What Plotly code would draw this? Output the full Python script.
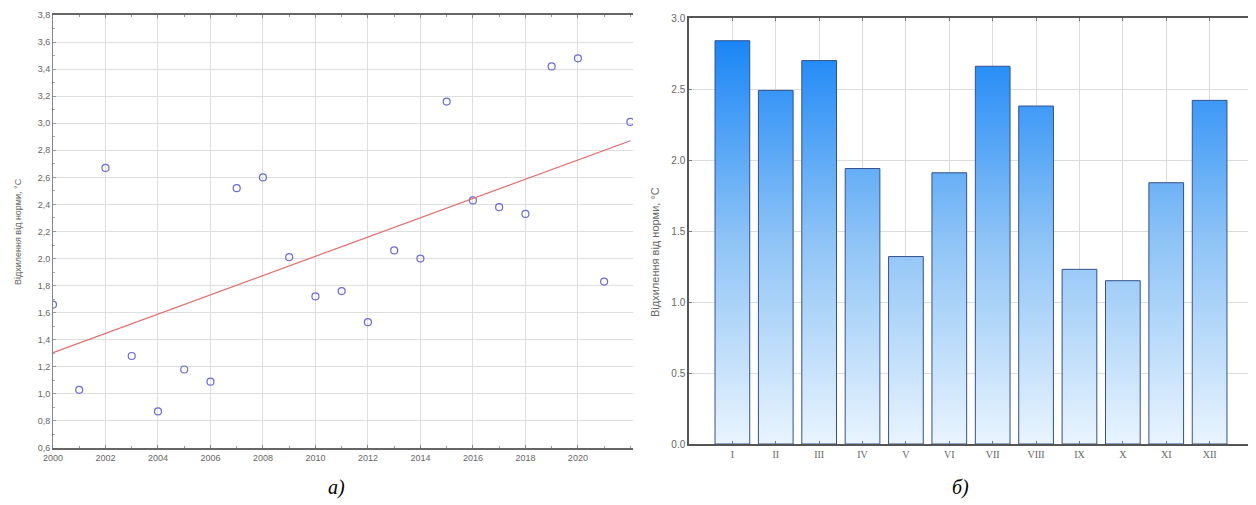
import numpy as np
import plotly.graph_objects as go

# ---- data: panel a) annual anomaly ----
years = list(range(2000, 2023))
anomaly = [1.66, 1.03, 2.67, 1.28, 0.87, 1.18, 1.09, 2.52, 2.60, 2.01, 1.72, 1.76,
           1.53, 2.06, 2.00, 3.16, 2.43, 2.38, 2.33, 3.42, 3.48, 1.83, 3.01]
left_yticks = [0.6, 0.8, 1.0, 1.2, 1.4, 1.6, 1.8, 2.0, 2.2, 2.4, 2.6, 2.8, 3.0, 3.2, 3.4, 3.6, 3.8]
left_yticklabels = ["0,6", "0,8", "1,0", "1,2", "1,4", "1,6", "1,8", "2,0", "2,2", "2,4",
                    "2,6", "2,8", "3,0", "3,2", "3,4", "3,6", "3,8"]
left_xticks = [2000, 2002, 2004, 2006, 2008, 2010, 2012, 2014, 2016, 2018, 2020]

# ---- data: panel б) monthly anomaly ----
months = ["I", "II", "III", "IV", "V", "VI", "VII", "VIII", "IX", "X", "XI", "XII"]
monthly = [2.84, 2.49, 2.70, 1.94, 1.32, 1.91, 2.66, 2.38, 1.23, 1.15, 1.84, 2.42]

ylabel = "Відхилення від норми, °С"

# page body has an 8px margin: the figure starts at (8, 8) of the window
OFF = 8
W, H = 1256 - OFF, 505 - OFF
def px(x):
    return (x - OFF) / W
def py(y):
    return 1 - (y - OFF) / H

fig = go.Figure()

# scatter points
fig.add_trace(go.Scatter(
    x=years, y=anomaly, mode="markers", xaxis="x", yaxis="y",
    marker=dict(symbol="circle-open", size=7, color="#6a6ad8", line=dict(width=1.2)),
    showlegend=False))

# linear trend from the data
coef = np.polyfit(years, anomaly, 1)
tx = np.array([years[0], years[-1]])
fig.add_trace(go.Scatter(
    x=tx, y=np.polyval(coef, tx), mode="lines", xaxis="x", yaxis="y",
    line=dict(color="#e46a6a", width=1.2), showlegend=False))

# bars as gradient-filled rectangles
bw = 0.4
bx, by = [], []
for i, v in enumerate(monthly, start=1):
    bx += [i - bw, i - bw, i + bw, i + bw, i - bw, None]
    by += [0, v, v, 0, 0, None]
fig.add_trace(go.Scatter(
    x=bx, y=by, mode="lines", fill="toself", xaxis="x2", yaxis="y2",
    line=dict(color="#34508e", width=1),
    fillgradient=dict(type="vertical", start=0, stop=max(monthly),
                      colorscale=[[0, "#e9f4fe"], [0.5, "#8fc4f6"], [1, "#1a86f6"]]),
    showlegend=False, hoverinfo="skip"))

tickfont_l = dict(family="Liberation Sans, Arial", size=9, color="#666")
fig.update_layout(
    width=W, height=H, margin=dict(l=0, r=0, t=0, b=0, autoexpand=False),
    paper_bgcolor="white", plot_bgcolor="white",
    xaxis=dict(domain=[px(53), px(633)], range=[2000, 2022.1], automargin=False,
               tickvals=left_xticks, ticktext=[str(v) for v in left_xticks],
               showgrid=True, gridcolor="#dedede", gridwidth=1,
               showline=True, linecolor="#666", linewidth=1.5, mirror="ticks",
               ticks="inside", ticklen=3, tickcolor="#888",
               minor=dict(dtick=1, ticks="inside", ticklen=2, tickcolor="#999", showgrid=False),
               tickfont=tickfont_l, zeroline=False, anchor="y"),
    yaxis=dict(domain=[py(448), py(15)], range=[0.6, 3.8], automargin=False,
               tickvals=left_yticks, ticktext=left_yticklabels,
               showgrid=True, gridcolor="#dedede", gridwidth=1,
               showline=True, linecolor="#888", linewidth=1,
               ticks="inside", ticklen=3, tickcolor="#999",
               minor=dict(dtick=0.1, ticks="inside", ticklen=2, tickcolor="#aaa", showgrid=False),
               tickfont=tickfont_l, zeroline=False, anchor="x"),
    xaxis2=dict(domain=[px(689), px(1253)], range=[0, 13], automargin=False,
                tickvals=list(range(1, 13)), ticktext=months,
                showgrid=True, gridcolor="#dcdcdc", gridwidth=1,
                showline=True, linecolor="#555", linewidth=1.5, mirror="ticks",
                ticks="inside", ticklen=3, tickcolor="#777",
                tickfont=dict(family="Liberation Serif, Times New Roman", size=10, color="#666"),
                zeroline=False, anchor="y2"),
    yaxis2=dict(domain=[py(444), py(18)], range=[0, 3.0], automargin=False,
                tickvals=[0, 0.5, 1.0, 1.5, 2.0, 2.5, 3.0], tickformat=".1f",
                showgrid=True, gridcolor="#dcdcdc", gridwidth=1,
                showline=True, linecolor="#555", linewidth=1.5, mirror="ticks",
                ticks="inside", ticklen=3, tickcolor="#777",
                tickfont=dict(family="Liberation Sans, Arial", size=10, color="#666"),
                zeroline=False, anchor="x2"),
)

annotations = [
    dict(text=ylabel, x=px(18), y=py(232), xref="paper", yref="paper", textangle=-90,
         xanchor="center", yanchor="middle",
         showarrow=False, font=dict(family="Liberation Sans, Arial", size=9, color="#666")),
    dict(text=ylabel, x=px(655), y=py(252), xref="paper", yref="paper", textangle=-90,
         xanchor="center", yanchor="middle",
         showarrow=False, font=dict(family="Liberation Sans, Arial", size=11, color="#666")),
    dict(text="<i>а)</i>", x=px(336), y=py(487), xref="paper", yref="paper",
         xanchor="center", yanchor="middle",
         showarrow=False, font=dict(family="Liberation Serif, Times New Roman", size=20, color="black")),
    dict(text="<i>б)</i>", x=px(960), y=py(487), xref="paper", yref="paper",
         xanchor="center", yanchor="middle",
         showarrow=False, font=dict(family="Liberation Serif, Times New Roman", size=20, color="black")),
]
fig.update_layout(annotations=annotations)

fig.write_html("out.html")
